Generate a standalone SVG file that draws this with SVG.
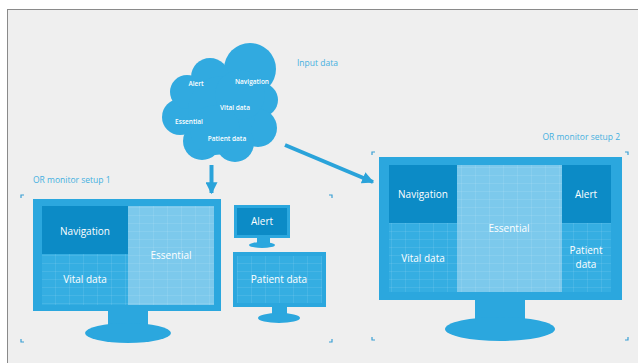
<svg xmlns="http://www.w3.org/2000/svg" width="638" height="363" viewBox="0 0 638 363">
<defs>
<pattern id="grid" width="14" height="8" patternUnits="userSpaceOnUse">
<path d="M14 0V8M0 8H14" fill="none" stroke="#ffffff" stroke-opacity="0.22" stroke-width="0.8"/>
</pattern>
<marker id="ah" viewBox="0 0 10 10" refX="9" refY="5" markerWidth="3" markerHeight="3" orient="auto">
<path d="M0 0L10 5L0 10Z" fill="#2aa3da"/>
</marker>
<style>
.frame{fill:#2ba7de}
.screen{fill:#35aee2}
.dark{fill:#0c8bc6}
.light{fill:#7cc9ec}
.gridf{fill:url(#grid)}
.lbl{font-family:"Open Sans","Noto Sans",sans-serif;font-size:10px;fill:#ffffff;text-anchor:middle}
.cl{font-family:"Open Sans","Noto Sans",sans-serif;font-size:6.5px;font-weight:600;fill:#ffffff;text-anchor:middle}
.cap{font-family:"Open Sans","Noto Sans",sans-serif;font-size:8.5px;fill:#45b0e0}
.br{fill:none;stroke:#3a9fd4;stroke-width:1.2}
.conn{fill:none;stroke:#2aa3da;stroke-width:4}
</style>
</defs>
<rect x="0" y="0" width="638" height="363" fill="#ffffff"/>
<rect x="7.5" y="9.5" width="640" height="360" fill="#efefef" stroke="#8a8a8a" stroke-width="1"/>

<g id="cloud">
<g fill="#31aae0">
<circle cx="250" cy="69" r="26"/>
<circle cx="261" cy="100" r="17"/>
<circle cx="258" cy="128" r="19"/>
<circle cx="235" cy="143" r="19"/>
<circle cx="202" cy="141" r="19"/>
<circle cx="180" cy="117" r="18"/>
<circle cx="187" cy="92" r="17"/>
<circle cx="210" cy="77" r="19"/>
<circle cx="222" cy="110" r="34"/>
<circle cx="240" cy="95" r="25"/>
<circle cx="215" cy="130" r="25"/>
</g>
<text class="cl" x="196" y="86">Alert</text>
<text class="cl" x="252" y="84">Navigation</text>
<text class="cl" x="235" y="110">Vital data</text>
<text class="cl" x="189" y="124">Essential</text>
<text class="cl" x="227" y="141">Patient data</text>
<text class="cap" x="297" y="66">Input data</text>
</g>

<g id="connectors">
<path class="conn" d="M211.5 165V193" marker-end="url(#ah)"/>
<path class="conn" d="M285 145L373 182" marker-end="url(#ah)"/>
</g>

<g id="setup1">
<text class="cap" x="33" y="183">OR monitor setup 1</text>
<path class="br" d="M21 198V195H24M329 195H332V198M21 339V342H24M329 342H332V339"/>
<g id="monitor1">
<rect class="frame" x="108" y="309" width="40" height="18"/>
<ellipse class="frame" cx="128" cy="333" rx="43" ry="10"/>
<rect class="frame" x="33" y="199" width="188" height="112"/>
<rect class="screen" x="42" y="206" width="172" height="99"/>
<rect class="light" x="128" y="206" width="86" height="99"/>
<rect class="gridf" x="42" y="206" width="172" height="99"/>
<rect class="dark" x="42" y="206" width="86" height="48"/>
<text class="lbl" x="85" y="235">Navigation</text>
<text class="lbl" x="171" y="259">Essential</text>
<text class="lbl" x="85" y="283">Vital data</text>
</g>
<g id="monitor-alert">
<rect class="frame" x="257" y="236" width="13" height="8"/>
<ellipse class="frame" cx="262" cy="245" rx="13" ry="3"/>
<rect class="frame" x="234" y="205" width="56" height="33"/>
<rect class="dark" x="237" y="208" width="50" height="27"/>
<text class="lbl" x="262" y="225">Alert</text>
</g>
<g id="monitor-patient">
<rect class="frame" x="272" y="305" width="15" height="11"/>
<ellipse class="frame" cx="279" cy="318" rx="21" ry="5"/>
<rect class="frame" x="233" y="252" width="93" height="55"/>
<rect class="screen" x="237" y="256" width="85" height="47"/>
<rect class="gridf" x="237" y="256" width="85" height="47"/>
<text class="lbl" x="279" y="283">Patient data</text>
</g>
</g>

<g id="setup2">
<text class="cap" x="620" y="140" text-anchor="end">OR monitor setup 2</text>
<path class="br" d="M372 155V152H375M625 152H628V155M372 337V340H375M625 340H628V337"/>
<g id="monitor2">
<rect class="frame" x="475" y="298" width="50" height="24"/>
<ellipse class="frame" cx="500" cy="329" rx="55" ry="12"/>
<rect class="frame" x="379" y="157" width="243" height="143"/>
<rect class="screen" x="389" y="165" width="222" height="127"/>
<rect class="light" x="457" y="165" width="105" height="127"/>
<rect class="gridf" x="389" y="165" width="222" height="127"/>
<rect class="dark" x="389" y="165" width="68" height="58"/>
<rect class="dark" x="562" y="165" width="49" height="58"/>
<text class="lbl" x="423" y="198">Navigation</text>
<text class="lbl" x="586" y="198">Alert</text>
<text class="lbl" x="509" y="232">Essential</text>
<text class="lbl" x="423" y="262">Vital data</text>
<text class="lbl" x="586" y="254">Patient</text>
<text class="lbl" x="586" y="268">data</text>
</g>
</g>
</svg>
